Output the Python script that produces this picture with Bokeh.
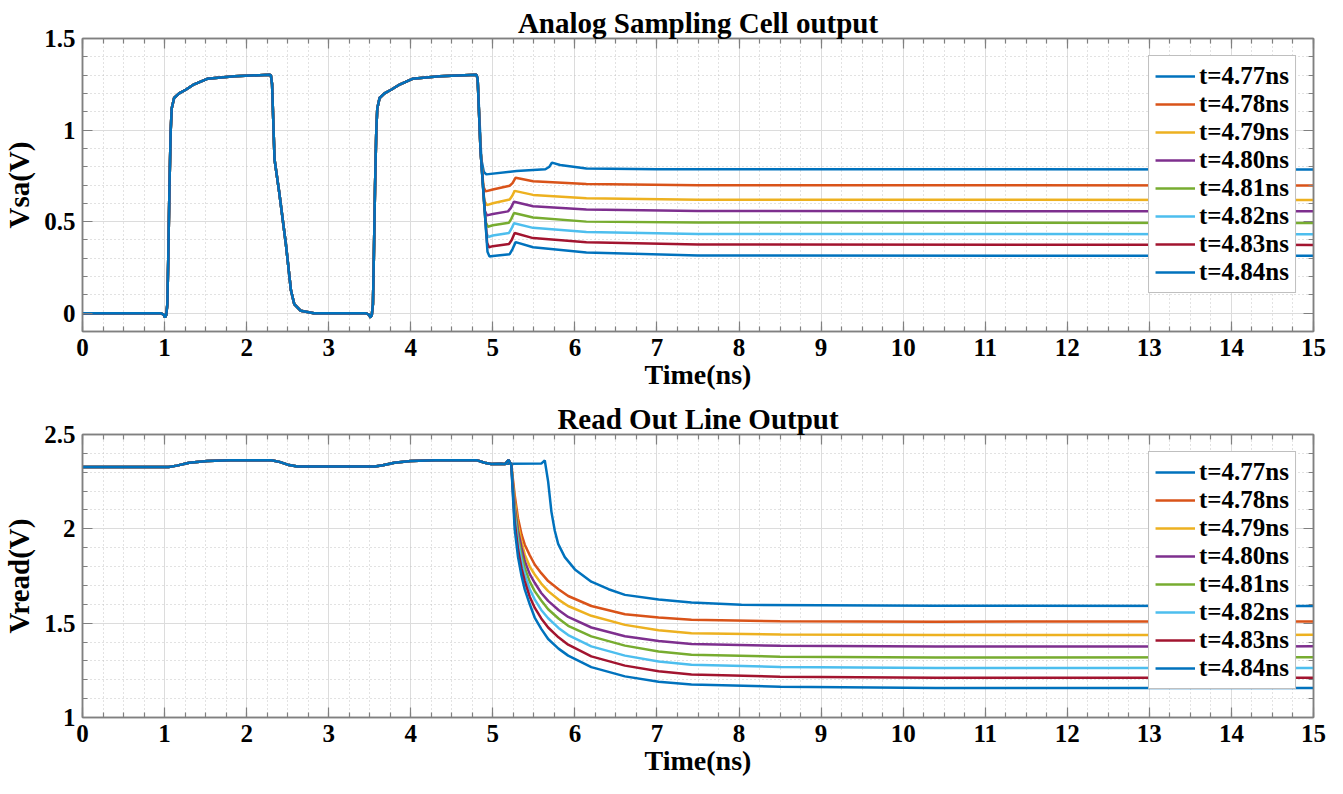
from bokeh.plotting import figure
from bokeh.models import SingleIntervalTicker, LinearAxis, Range1d, CustomJSTickFormatter
from bokeh.layouts import column
from bokeh.embed import file_html
from bokeh.resources import INLINE

labels = ["t=4.77ns", "t=4.78ns", "t=4.79ns", "t=4.80ns",
          "t=4.81ns", "t=4.82ns", "t=4.83ns", "t=4.84ns"]
colors = ["#0072BD", "#D95319", "#EDB120", "#7E2F8E",
          "#77AC30", "#4DBEEE", "#A2142F", "#0072BD"]

# ---- Analog Sampling Cell output (common part before 4.8 ns) ----
sa_t_common = [0, 0.95, 0.99, 1.005, 1.02, 1.034, 1.045, 1.06, 1.075, 1.087,
               1.116, 1.177, 1.258, 1.36, 1.52, 1.85, 2.276, 2.295, 2.31, 2.34,
               2.40, 2.48, 2.54, 2.58, 2.66, 2.82, 3.0, 3.45, 3.49, 3.51,
               3.525, 3.539, 3.55, 3.565, 3.58, 3.592, 3.62, 3.68, 3.76, 3.87,
               4.02, 4.35, 4.80]
sa_v_common = [0, 0, -0.008, -0.024, -0.01, 0.05, 0.3, 0.7, 1.0, 1.118,
               1.175, 1.20, 1.22, 1.25, 1.28, 1.294, 1.302, 1.30, 1.25, 0.84,
               0.65, 0.37, 0.125, 0.05, 0.013, 0.0, 0.0, 0.0, -0.008, -0.024,
               -0.01, 0.05, 0.3, 0.7, 1.0, 1.118, 1.175, 1.20, 1.22, 1.25,
               1.28, 1.294, 1.302]

sa_tail_t = [
    [4.815, 4.86, 4.89, 4.92, 5.29, 5.64, 5.69, 5.72, 5.82, 6.14, 7.0, 15],
    [4.815, 4.85, 4.885, 4.912, 5.0, 5.205, 5.24, 5.278, 5.49, 6.14, 7.5, 15],
    [4.815, 4.85, 4.895, 4.928, 5.0, 5.205, 5.235, 5.266, 5.49, 6.14, 7.5, 15],
    [4.815, 4.85, 4.90, 4.928, 5.0, 5.185, 5.22, 5.258, 5.49, 6.14, 7.5, 15],
    [4.815, 4.85, 4.91, 4.94, 5.0, 5.197, 5.225, 5.258, 5.49, 6.14, 7.5, 15],
    [4.815, 4.85, 4.92, 4.945, 5.0, 5.197, 5.225, 5.258, 5.49, 6.14, 7.5, 15],
    [4.815, 4.85, 4.93, 4.953, 5.0, 5.197, 5.23, 5.266, 5.49, 6.14, 7.5, 15],
    [4.815, 4.85, 4.935, 4.96, 5.0, 5.205, 5.24, 5.278, 5.49, 6.14, 7.5, 15],
]
sa_tail_v = [
    [1.28, 0.84, 0.772, 0.758, 0.777, 0.786, 0.80, 0.822, 0.809, 0.79, 0.786, 0.785],
    [1.28, 0.89, 0.69, 0.665, 0.675, 0.696, 0.71, 0.740, 0.721, 0.706, 0.699, 0.697],
    [1.28, 0.89, 0.615, 0.590, 0.60, 0.621, 0.64, 0.668, 0.646, 0.627, 0.620, 0.618],
    [1.28, 0.89, 0.56, 0.534, 0.542, 0.556, 0.575, 0.609, 0.584, 0.566, 0.558, 0.556],
    [1.28, 0.89, 0.50, 0.472, 0.48, 0.494, 0.515, 0.547, 0.523, 0.50, 0.495, 0.493],
    [1.28, 0.89, 0.44, 0.416, 0.424, 0.438, 0.46, 0.491, 0.466, 0.444, 0.433, 0.431],
    [1.28, 0.89, 0.385, 0.36, 0.366, 0.378, 0.40, 0.438, 0.41, 0.388, 0.375, 0.373],
    [1.28, 0.89, 0.335, 0.309, 0.312, 0.322, 0.35, 0.388, 0.36, 0.332, 0.315, 0.313],
]

# ---- Read Out Line Output ----
rd_t_common = [0, 1.05, 1.15, 1.3, 1.52, 1.8, 2.3, 2.4, 2.5, 2.62,
               3.56, 3.66, 3.8, 4.0, 4.3, 4.8, 4.9, 4.98, 5.1]
rd_v_common = [2.328, 2.328, 2.335, 2.35, 2.36, 2.364, 2.364, 2.355, 2.34, 2.33,
               2.33, 2.337, 2.35, 2.36, 2.364, 2.364, 2.35, 2.344, 2.345]

rd_first_t = [5.59, 5.633, 5.674, 5.714, 5.755, 5.796, 5.877, 6.0, 6.20, 6.41,
              6.61, 7.02, 7.42, 8.03, 10.4, 15]
rd_first_v = [2.346, 2.363, 2.25, 2.09, 1.99, 1.92, 1.85, 1.785, 1.72, 1.68,
              1.65, 1.625, 1.609, 1.597, 1.592, 1.591]

rd_rest_t = [5.15, 5.19, 5.225, 5.266, 5.307, 5.35, 5.389, 5.45, 5.51, 5.59,
             5.674, 5.8, 5.918, 6.2, 6.61, 7.02, 7.42, 8.5, 10.4, 15]
rd_rest_v = [
    [2.343, 2.365, 2.34, 2.18, 2.056, 1.97, 1.916, 1.86, 1.811, 1.765, 1.723, 1.68, 1.644, 1.591, 1.547, 1.53, 1.518, 1.51, 1.508, 1.509],
    [2.343, 2.365, 2.34, 2.15, 2.021, 1.93, 1.863, 1.80, 1.758, 1.71, 1.670, 1.625, 1.591, 1.539, 1.491, 1.462, 1.447, 1.44, 1.437, 1.438],
    [2.343, 2.365, 2.34, 2.12, 1.99, 1.90, 1.828, 1.76, 1.714, 1.66, 1.618, 1.57, 1.533, 1.477, 1.431, 1.405, 1.389, 1.38, 1.376, 1.377],
    [2.343, 2.365, 2.34, 2.10, 1.96, 1.86, 1.793, 1.72, 1.670, 1.62, 1.574, 1.525, 1.486, 1.430, 1.381, 1.35, 1.333, 1.322, 1.318, 1.319],
    [2.343, 2.365, 2.34, 2.07, 1.93, 1.83, 1.758, 1.68, 1.626, 1.57, 1.526, 1.475, 1.437, 1.377, 1.328, 1.297, 1.279, 1.268, 1.263, 1.263],
    [2.343, 2.365, 2.34, 2.04, 1.89, 1.79, 1.723, 1.64, 1.582, 1.525, 1.477, 1.425, 1.386, 1.324, 1.275, 1.245, 1.228, 1.216, 1.211, 1.211],
    [2.343, 2.365, 2.34, 2.00, 1.85, 1.75, 1.679, 1.60, 1.530, 1.47, 1.416, 1.365, 1.328, 1.267, 1.218, 1.19, 1.175, 1.163, 1.157, 1.156],
]

x_range = (0, 15)
sa_y_range = (-0.1, 1.5)
rd_y_range = (1.0, 2.5)

FONT = "Liberation Serif"
AXC = "#808080"


def style_axis(ax, labels_on=True):
    ax.axis_line_color = AXC
    ax.axis_line_width = 1.5
    ax.major_tick_line_color = AXC
    ax.minor_tick_line_color = AXC
    ax.major_tick_line_width = 1.2
    ax.minor_tick_line_width = 1.2
    ax.major_tick_in = 10
    ax.major_tick_out = 0
    ax.minor_tick_in = 5
    ax.minor_tick_out = 0
    ax.major_label_text_font = FONT
    ax.major_label_text_font_style = "bold"
    ax.major_label_text_color = "black"
    if labels_on:
        ax.major_label_text_font_size = "25px"
        ax.major_label_standoff = 7
        ax.axis_label_text_font = FONT
        ax.axis_label_text_font_style = "bold"
        ax.axis_label_text_color = "black"
    else:
        ax.formatter = CustomJSTickFormatter(code="return '';")
        ax.major_label_text_font_size = "2px"
        ax.major_label_standoff = 0


def make_fig(height, btop, bbot, title, ylabel, yr):
    p = figure(width=1327, height=height, x_range=Range1d(*x_range),
               y_range=Range1d(*yr), output_backend="svg", toolbar_location=None,
               min_border_left=79, min_border_right=14,
               min_border_top=btop, min_border_bottom=bbot)
    xt = SingleIntervalTicker(interval=1, num_minor_ticks=4)
    yt = SingleIntervalTicker(interval=0.5, num_minor_ticks=5)
    fmt = CustomJSTickFormatter(code="return (Math.round(tick*100)/100).toString();")
    p.xaxis.ticker = xt
    p.yaxis.ticker = yt
    p.yaxis.formatter = fmt
    p.xaxis.formatter = fmt
    style_axis(p.xaxis[0])
    style_axis(p.yaxis[0])
    p.xaxis.axis_label = "Time(ns)"
    p.xaxis.axis_label_text_font_size = "28px"
    p.xaxis.axis_label_standoff = 0
    p.yaxis.axis_label = ylabel
    p.yaxis.axis_label_text_font_size = "29px"
    p.yaxis.axis_label_standoff = 6
    top = LinearAxis(ticker=SingleIntervalTicker(interval=1, num_minor_ticks=4))
    right = LinearAxis(ticker=SingleIntervalTicker(interval=0.5, num_minor_ticks=5))
    style_axis(top, False)
    style_axis(right, False)
    p.add_layout(top, "above")
    p.add_layout(right, "right")
    for g in (p.xgrid[0], p.ygrid[0]):
        g.grid_line_color = "#dcdcdc"
        g.grid_line_width = 1
        g.minor_grid_line_color = "#c4c4c4"
        g.minor_grid_line_dash = "1 3"
        g.minor_grid_line_width = 1
    p.outline_line_color = AXC
    p.outline_line_width = 1.5
    p.background_fill_color = "white"
    p.border_fill_color = "white"
    p.title.text = title
    p.title.align = "center"
    p.title.text_font = FONT
    p.title.text_font_size = "29px"
    p.title.text_font_style = "bold"
    p.title.text_color = "black"
    p.title.standoff = 0
    return p


def style_legend(p):
    lg = p.legend[0]
    lg.location = "top_right"
    lg.margin = 17
    lg.padding = 6
    lg.spacing = 0
    lg.label_height = 27
    lg.glyph_width = 40
    lg.glyph_height = 20
    lg.label_standoff = 4
    lg.label_text_font = FONT
    lg.label_text_font_size = "25px"
    lg.label_text_font_style = "bold"
    lg.label_text_color = "black"
    lg.border_line_color = AXC
    lg.border_line_width = 1.5
    lg.background_fill_color = "white"
    lg.background_fill_alpha = 1.0


p1 = make_fig(392, 38, 60, "Analog Sampling Cell output", "Vsa(V)", sa_y_range)
for i in range(8):
    t = sa_t_common + sa_tail_t[i]
    v = sa_v_common + sa_tail_v[i]
    p1.line(t, v, line_color=colors[i], line_width=2.5, legend_label=labels[i])
style_legend(p1)

p2 = make_fig(386, 42, 60, "Read Out Line Output", "Vread(V)", rd_y_range)
t0 = rd_t_common + rd_first_t
v0 = rd_v_common + rd_first_v
p2.line(t0, v0, line_color=colors[0], line_width=2.5, legend_label=labels[0])
for i in range(1, 8):
    t = rd_t_common + rd_rest_t
    v = rd_v_common + rd_rest_v[i - 1]
    p2.line(t, v, line_color=colors[i], line_width=2.5, legend_label=labels[i])
style_legend(p2)

layout = column(p1, p2, spacing=0)
open("out.html", "w").write(file_html(layout, INLINE))
